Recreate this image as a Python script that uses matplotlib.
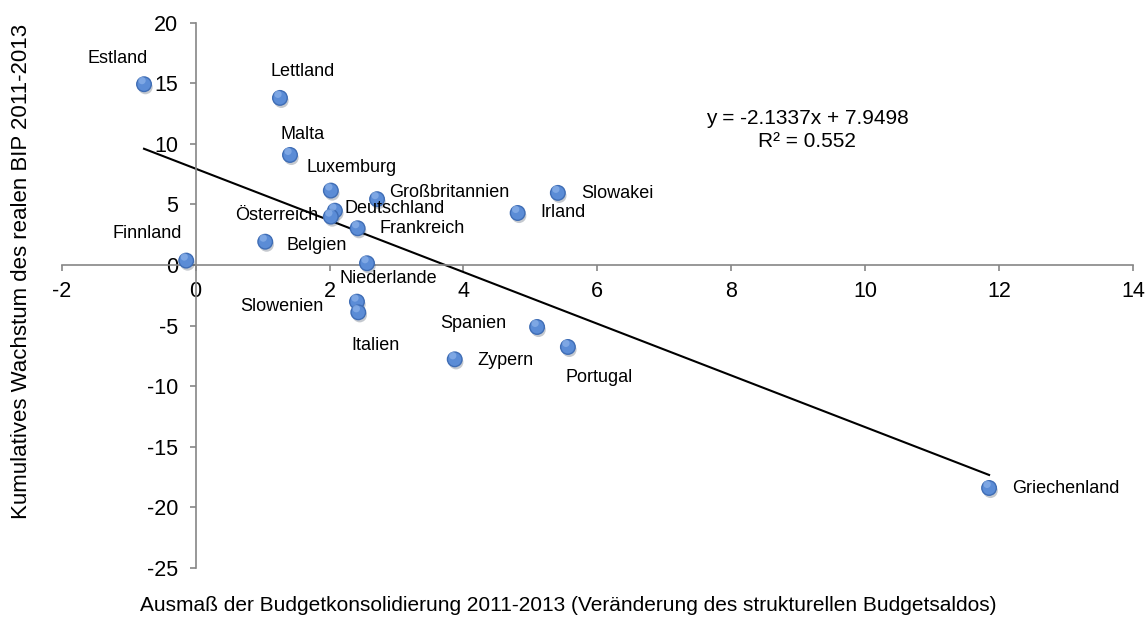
import numpy as np
import matplotlib.pyplot as plt
import matplotlib.patheffects as pe

plt.rcParams['font.family'] = ['Liberation Sans', 'DejaVu Sans']
plt.rcParams['axes.unicode_minus'] = False

laender = ['Estland', 'Lettland', 'Malta', 'Luxemburg', 'Großbritannien',
           'Deutschland', 'Österreich', 'Frankreich', 'Belgien', 'Finnland',
           'Niederlande', 'Slowenien', 'Italien', 'Zypern', 'Slowakei',
           'Irland', 'Spanien', 'Portugal', 'Griechenland']
konsolidierung = [-0.77, 1.26, 1.41, 2.02, 2.71, 2.08, 2.02, 2.42, 1.04, -0.14,
                  2.56, 2.41, 2.43, 3.87, 5.41, 4.81, 5.10, 5.56, 11.85]
wachstum = [14.92, 13.79, 9.08, 6.14, 5.43, 4.48, 3.99, 3.03, 1.92, 0.36,
            0.14, -3.03, -3.91, -7.79, 5.95, 4.29, -5.12, -6.77, -18.41]

# label offsets in pixels + alignment
offsets = {
    'Estland': (-26, 26, 'center'), 'Lettland': (23, 26, 'center'),
    'Malta': (13, 20, 'center'), 'Luxemburg': (21, 23, 'center'),
    'Großbritannien': (12, 7, 'left'), 'Deutschland': (10, 2, 'left'),
    'Österreich': (-13, 1, 'right'), 'Frankreich': (22, 0, 'left'),
    'Belgien': (21, -4, 'left'), 'Finnland': (-4, 27, 'right'),
    'Niederlande': (21, -15, 'center'), 'Slowenien': (-34, -5, 'right'),
    'Italien': (17, -33, 'center'), 'Zypern': (23, -1, 'left'),
    'Slowakei': (23, -1, 'left'), 'Irland': (23, 0, 'left'),
    'Spanien': (-31, 3, 'right'), 'Portugal': (31, -31, 'center'),
    'Griechenland': (23, -1, 'left'),
}

steigung, achse = -2.1337, 7.9498
r2 = 0.552

fig = plt.figure(figsize=(11.46, 6.18), dpi=100)
ax = fig.add_axes([0.0538, 0.0812, 0.9349, 0.8821])

grau = '#868686'
for s in ['top', 'right']:
    ax.spines[s].set_visible(False)
ax.spines['left'].set_position(('data', 0))
ax.spines['bottom'].set_position(('data', 0))
for s in ['left', 'bottom']:
    ax.spines[s].set_color(grau)
    ax.spines[s].set_linewidth(1.2)

ax.set_xlim(-2, 14)
ax.set_ylim(-25, 20)
ax.set_xticks(np.arange(-2, 15, 2))
ax.set_yticks(np.arange(-25, 21, 5))
ax.tick_params(axis='both', direction='out', length=4.5, width=1.2, color=grau,
               labelsize=15.5, labelcolor='black')
ax.tick_params(axis='y', pad=8)
ax.tick_params(axis='x', pad=7)

x = np.array(konsolidierung)
y = np.array(wachstum)
xs = np.array([x.min(), x.max()])
ax.plot(xs, steigung * xs + achse, color='black', lw=1.5, zorder=2)

ax.scatter(x, y, s=110, facecolor='#5B8CD6', edgecolor='#3F6DB5',
           linewidth=1.0, zorder=3,
           path_effects=[pe.SimplePatchShadow(offset=(1, -2), alpha=0.25),
                         pe.Normal()])
ax.scatter(x - 0.03, y + 0.3, s=28, facecolor='#8DB3EA', edgecolor='none',
           alpha=0.7, zorder=4)

for name, xi, yi in zip(laender, x, y):
    dx, dy, ha = offsets[name]
    ax.annotate(name, (xi, yi), xytext=(dx, dy), textcoords='offset pixels',
                ha=ha, va='center', fontsize=13)

ax.text(0.696, 0.803, 'y = %.4fx + %.4f\nR² = %.3f' % (steigung, achse, r2),
        transform=ax.transAxes, ha='center', va='center', fontsize=15,
        linespacing=1.25)

fig.text(0.496, 0.021, 'Ausmaß der Budgetkonsolidierung 2011-2013 '
         '(Veränderung des strukturellen Budgetsaldos)',
         ha='center', va='center', fontsize=15)
fig.text(0.019, 0.56, 'Kumulatives Wachstum des realen BIP 2011-2013',
         rotation=90, ha='center', va='center', fontsize=16)

fig.savefig('out.png', dpi=100)
